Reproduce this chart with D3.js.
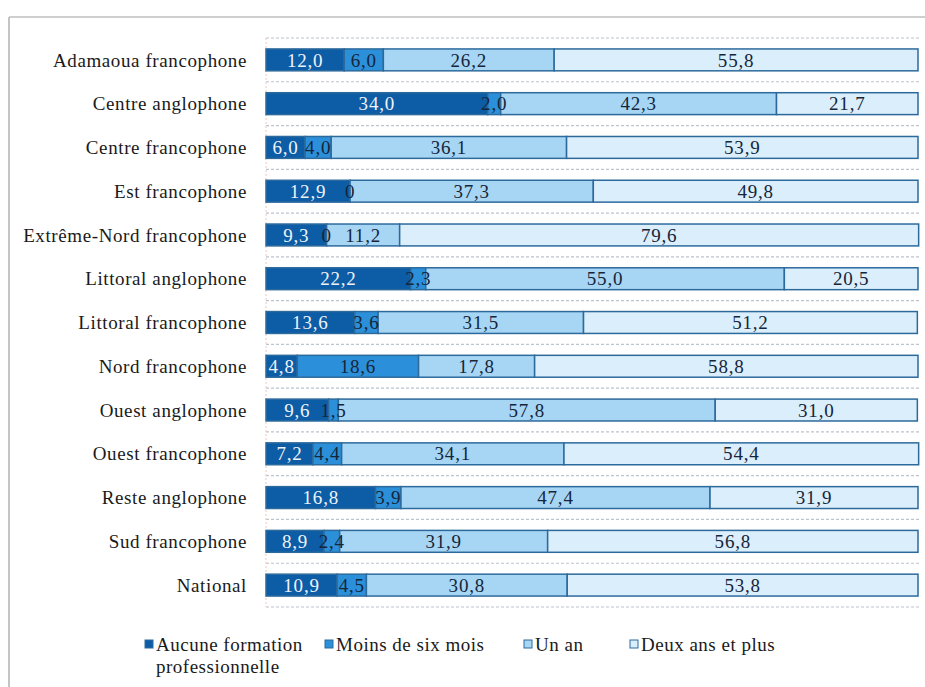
<!DOCTYPE html>
<html>
<head>
<meta charset="utf-8">
<script src="https://cdn.jsdelivr.net/npm/d3@7"></script>
<style>
  html, body { margin: 0; padding: 0; background: #ffffff; }
  svg { display: block; }
  text { font-family: "Liberation Serif", "Times New Roman", serif; }
</style>
</head>
<body>
<svg id="chart" width="925" height="687"></svg>
<script>
const categories = [
  "Adamaoua francophone", "Centre anglophone", "Centre francophone", "Est francophone",
  "Extrême-Nord francophone", "Littoral anglophone", "Littoral francophone", "Nord francophone",
  "Ouest anglophone", "Ouest francophone", "Reste anglophone", "Sud francophone", "National"
];
const seriesNames = ["Aucune formation professionnelle", "Moins de six mois", "Un an", "Deux ans et plus"];
const aucune   = [12.0, 34.0, 6.0, 12.9, 9.3, 22.2, 13.6, 4.8, 9.6, 7.2, 16.8, 8.9, 10.9];
const moins6   = [6.0, 2.0, 4.0, 0, 0, 2.3, 3.6, 18.6, 1.5, 4.4, 3.9, 2.4, 4.5];
const unAn     = [26.2, 42.3, 36.1, 37.3, 11.2, 55.0, 31.5, 17.8, 57.8, 34.1, 47.4, 31.9, 30.8];
const deuxAns  = [55.8, 21.7, 53.9, 49.8, 79.6, 20.5, 51.2, 58.8, 31.0, 54.4, 31.9, 56.8, 53.8];
const legendLines = [["Aucune formation", "professionnelle"], ["Moins de six mois"], ["Un an"], ["Deux ans et plus"]];

const colors = ["#0d5ca6", "#2b90d9", "#a7d6f5", "#dbeefb"];
const labelColors = ["#eef3f8", "#15253a", "#15253a", "#15253a"];

const svg = d3.select("#chart");

// outer frame (top and left edges visible)
svg.append("line").attr("x1", 9).attr("x2", 925).attr("y1", 17).attr("y2", 17)
  .attr("stroke", "#cfcfcf").attr("stroke-width", 2);
svg.append("line").attr("x1", 9).attr("x2", 9).attr("y1", 17).attr("y2", 687)
  .attr("stroke", "#c4c4c4").attr("stroke-width", 2);

const x = d3.scaleLinear().domain([0, 100]).range([266, 918]);
const y = d3.scaleBand().domain(categories).range([38, 607]).paddingInner(0.5).paddingOuter(0.25);

// dashed gridlines between rows
const gridYs = d3.range(categories.length + 1).map(i => y.range()[0] + i * y.step());
svg.append("g").selectAll("line").data(gridYs).join("line")
  .attr("x1", 266).attr("x2", 920)
  .attr("y1", d => d).attr("y2", d => d)
  .attr("stroke", "#bcc4cc").attr("stroke-width", 1.2)
  .attr("stroke-dasharray", "3,2");

// vertical axis line (faint dotted)
svg.append("line").attr("x1", 266).attr("x2", 266).attr("y1", 38).attr("y2", 607)
  .attr("stroke", "#f0c8b8").attr("stroke-width", 1).attr("stroke-dasharray", "2,2");

const seriesData = [aucune, moins6, unAn, deuxAns];
const rows = categories.map((c, i) => {
  const obj = { cat: c };
  seriesNames.forEach((s, k) => obj[s] = seriesData[k][i]);
  return obj;
});
const stack = d3.stack().keys(seriesNames)(rows);

const gBars = svg.append("g");
stack.forEach((layer, k) => {
  gBars.append("g").selectAll("rect").data(layer).join("rect")
    .attr("x", d => x(d[0]))
    .attr("y", d => y(d.data.cat))
    .attr("width", d => Math.max(0, x(d[1]) - x(d[0])))
    .attr("height", y.bandwidth())
    .attr("fill", colors[k])
    .attr("stroke", "#2d6a9c")
    .attr("stroke-width", 1.5);
});

const fmt = v => v === 0 ? "0" : d3.format(".1f")(v).replace(".", ",");
stack.forEach((layer, k) => {
  svg.append("g").selectAll("text").data(layer).join("text")
    .attr("x", d => (x(d[0]) + x(d[1])) / 2)
    .attr("y", d => y(d.data.cat) + y.bandwidth() / 2)
    .attr("dy", "0.35em")
    .attr("text-anchor", "middle")
    .attr("font-size", 19)
    .attr("letter-spacing", 0.8)
    .attr("fill", labelColors[k])
    .text(d => fmt(d.data[seriesNames[k]]));
});

// category labels
svg.append("g").selectAll("text").data(categories).join("text")
  .attr("x", 247)
  .attr("y", d => y(d) + y.bandwidth() / 2)
  .attr("dy", "0.35em")
  .attr("text-anchor", "end")
  .attr("font-size", 19)
  .attr("letter-spacing", 0.6)
  .attr("fill", "#1a1a1a")
  .text(d => d);

// legend
const legendX = [145, 325, 524, 630];
const lg = svg.append("g");
legendLines.forEach((lines, k) => {
  lg.append("rect")
    .attr("x", legendX[k]).attr("y", 640).attr("width", 8).attr("height", 8)
    .attr("fill", colors[k]).attr("stroke", "#2d6a9c").attr("stroke-width", 1);
  const t = lg.append("text")
    .attr("x", legendX[k] + 11).attr("y", 651)
    .attr("font-size", 19).attr("letter-spacing", 0.5).attr("fill", "#1a1a1a");
  lines.forEach((ln, j) => {
    t.append("tspan").attr("x", legendX[k] + 11).attr("dy", j === 0 ? 0 : 22).text(ln);
  });
});
</script>
</body>
</html>
